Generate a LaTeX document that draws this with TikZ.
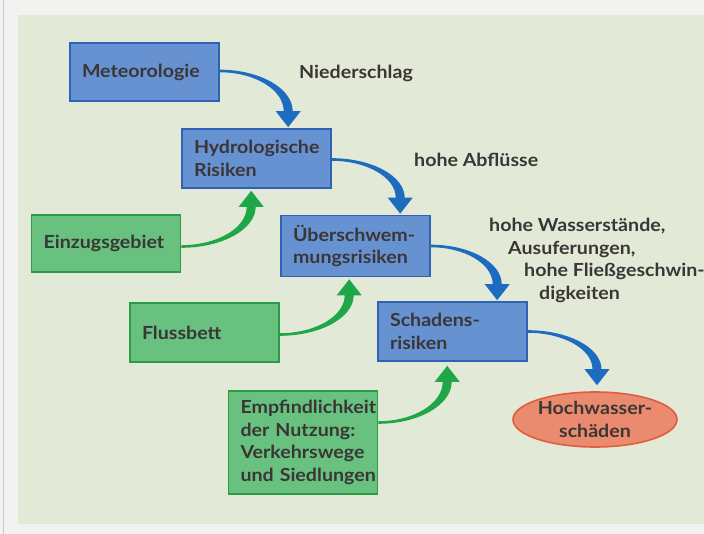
\documentclass[tikz,border=0pt]{standalone}
\usepackage{fontspec}
\setmainfont{Lato}[FakeStretch=1.09]
\usetikzlibrary{calc,shapes.geometric}
\definecolor{outerbg}{HTML}{F2F3F0}
\definecolor{panelbg}{HTML}{E2E9D6}
\definecolor{bluefill}{HTML}{6792D2}
\definecolor{bluebd}{HTML}{2F62B5}
\definecolor{greenfill}{HTML}{68C17E}
\definecolor{greenbd}{HTML}{2A9C48}
\definecolor{redfill}{HTML}{EA8A6E}
\definecolor{redbd}{HTML}{DF5E3E}
\definecolor{bluearr}{HTML}{1E6CC0}
\definecolor{greenarr}{HTML}{1FA648}
\definecolor{txt}{HTML}{3A3636}
\newcommand\flowarrow[4]{%
  \fill[#1] let \p1=(#2), \p2=(#3), \p3=(\x2,{\y2+#4*16pt}) in
   (\x1,{\y1+#4*1.3pt})
   .. controls ({\x1+0.55*(\x3+4.5pt-\x1)},{\y1+#4*1.3pt})
           and ({\x3+4.5pt},{\y3+0.55*(\y1+#4*1.3pt-\y3)})
   .. ({\x3+4.5pt},\y3)
   -- ({\x3+12.5pt},\y3) -- (\x2,\y2) -- ({\x3-12.5pt},\y3) -- ({\x3-4.5pt},\y3)
   .. controls ({\x3-4.5pt},{\y3+0.55*(\y1-#4*1.3pt-\y3)})
           and ({\x1+0.55*(\x3-4.5pt-\x1)},{\y1-#4*1.3pt})
   .. (\x1,{\y1-#4*1.3pt}) -- cycle;}
\begin{document}
\begin{tikzpicture}[x=1pt,y=-1pt,
  every node/.style={font=\fontsize{18}{22.5}\selectfont\bfseries, text=txt},
  bluebox/.style={draw=bluebd, fill=bluefill, line width=1.6pt, align=left,
    text width=125pt, inner xsep=12pt, inner ysep=0pt},
  greenbox/.style={bluebox, draw=greenbd, fill=greenfill},
  lbl/.style={anchor=west, inner sep=0pt, align=left}]
\useasboundingbox (0,0) rectangle (704,534);
\fill[outerbg] (0,0) rectangle (704,534);
\draw[black!22, line width=0.8pt] (3.5,0) -- (3.5,534);
\fill[panelbg] (18,15) rectangle (704,524);

\node[bluebox, minimum height=58pt] (met) at (144.5,72) {Meteorologie};
\node[bluebox, minimum height=59pt] (hyd) at (256.5,158.5) {Hydrologische\\Risiken};
\node[bluebox, minimum height=61pt] (ueb) at (355.5,246) {Überschwem-\\mungsrisiken};
\node[bluebox, minimum height=59pt] (sch) at (452.5,331.5) {Schadens-\\risiken};
\node[greenbox, minimum height=57pt] (ein) at (106,243.5) {Einzugsgebiet};
\node[greenbox, minimum height=59pt] (flu) at (204.5,332.5) {Flussbett};
\node[greenbox, minimum height=103pt] (emp) at (303,442.5) {\mbox{Empfindlichkeit}\\\mbox{der Nutzung:}\\\mbox{Verkehrswege}\\\mbox{und Siedlungen}};
\node[ellipse, draw=redbd, fill=redfill, line width=1.6pt, minimum width=164pt,
  minimum height=55pt, inner sep=0pt, align=center] (hoch) at (595,419.5) {Hochwasser-\\schäden};

\node[lbl] (l1) at (299,73) {Niederschlag};
\node[lbl] (l2) at (414,160) {hohe Abflüsse};
\node[lbl, anchor=north west] (l3) at (489,218) {hohe Wasserstände,\\\hspace*{19pt}Ausuferungen,\\\hspace*{35pt}hohe Fließgeschwin-\\\hspace*{50pt}digkeiten};

\flowarrow{bluearr}{$(met.east)+(0,-1)$}{$(hyd.north west)+(107,-1)$}{1}
\flowarrow{bluearr}{$(hyd.east)+(0,1)$}{$(ueb.north west)+(120,-1)$}{1}
\flowarrow{bluearr}{$(ueb.east)$}{$(sch.north west)+(120,-1)$}{1}
\flowarrow{bluearr}{$(sch.east)$}{$(hoch.north)+(2,-6)$}{1}
\flowarrow{greenarr}{$(ein.east)+(0,3)$}{$(hyd.south west)+(70,2)$}{-1}
\flowarrow{greenarr}{$(flu.east)+(0,2)$}{$(ueb.south west)+(69,2)$}{-1}
\flowarrow{greenarr}{$(emp.east)+(0,-20)$}{$(sch.south west)+(70,4)$}{-1}
\end{tikzpicture}
\end{document}
